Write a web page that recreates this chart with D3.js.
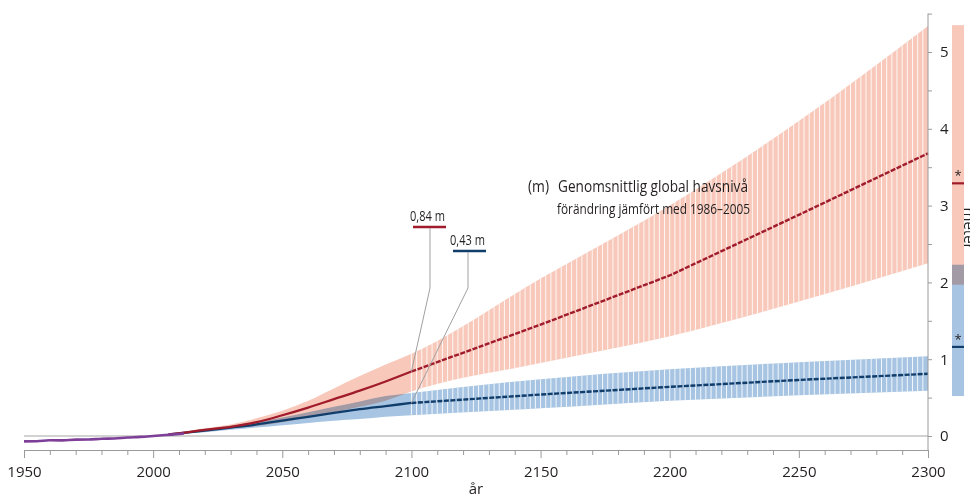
<!DOCTYPE html>
<html>
<head>
<meta charset="utf-8">
<script src="https://cdn.jsdelivr.net/npm/d3@7"></script>
<style>
  body { margin: 0; background: #fff; }
  text { font-family: "Open Sans", sans-serif; fill: #231f20; }
  .axis path, .axis line { stroke: #9a9a9a; }
</style>
</head>
<body>
<div id="chart"></div>
<script>

// historical observations
var histYears = [1950, 1955, 1960, 1965, 1970, 1975, 1980, 1985, 1990, 1995, 2000, 2005, 2010, 2012];
var histLevel = [-0.07, -0.068, -0.056, -0.057, -0.047, -0.046, -0.036, -0.032, -0.02, -0.012, 0.0, 0.013, 0.026, 0.032];

// projections
var projYears = [2006, 2010, 2020, 2030, 2040, 2050, 2060, 2070, 2080, 2090, 2100, 2150, 2200, 2250, 2300];
var highMid  = [0.02, 0.035, 0.08, 0.12, 0.18, 0.27, 0.37, 0.48, 0.59, 0.71, 0.84, 1.45, 2.09, 2.88, 3.68];
var highUp   = [0.02, 0.045, 0.10, 0.15, 0.23, 0.33, 0.46, 0.62, 0.78, 0.93, 1.07, 2.05, 3.00, 4.10, 5.34];
var highLow  = [0.02, 0.030, 0.07, 0.10, 0.13, 0.18, 0.24, 0.31, 0.38, 0.46, 0.58, 0.95, 1.30, 1.75, 2.25];
var lowMid   = [0.02, 0.035, 0.07, 0.11, 0.15, 0.20, 0.25, 0.30, 0.35, 0.39, 0.43, 0.54, 0.64, 0.73, 0.81];
var lowUp    = [0.02, 0.045, 0.09, 0.13, 0.18, 0.24, 0.31, 0.38, 0.45, 0.52, 0.56, 0.74, 0.87, 0.96, 1.04];
var lowLow   = [0.02, 0.030, 0.05, 0.08, 0.11, 0.14, 0.17, 0.20, 0.22, 0.25, 0.27, 0.36, 0.46, 0.53, 0.59];

// 2300 ranges shown at right side
var barHigh = {lo: 1.97, hi: 5.35, mid: 3.29};
var barLow  = {lo: 0.52, hi: 2.23, mid: 1.16};

var yearTicks = [1950, 2000, 2050, 2100, 2150, 2200, 2250, 2300];
var levelTicks = [0, 1, 2, 3, 4, 5];

var pink = "#f8c9bb", blue = "#a7c5e3", darkRed = "#a01b2b", darkBlue = "#113d6b", purple = "#7e3f98";

var width = 970, height = 500, axisY = 450;

var x = d3.scaleLinear().domain([1950, 2300]).range([24, 928]);
var y = d3.scaleLinear().domain([0, 5]).range([436, 52]);

var svg = d3.select("#chart")
    .append("svg")
    .attr("width", width)
    .attr("height", height);

var proj = projYears.map(function(d, i) {
  return {year: d, hMid: highMid[i], hUp: highUp[i], hLow: highLow[i],
          lMid: lowMid[i], lUp: lowUp[i], lLow: lowLow[i]};
});
var hist = histYears.map(function(d, i) { return {year: d, v: histLevel[i]}; });

var areaHigh = d3.area().curve(d3.curveMonotoneX)
    .x(function(d) { return x(d.year); })
    .y0(function(d) { return y(d.hLow); })
    .y1(function(d) { return y(d.hUp); });
var areaLow = d3.area().curve(d3.curveMonotoneX)
    .x(function(d) { return x(d.year); })
    .y0(function(d) { return y(d.lLow); })
    .y1(function(d) { return y(d.lUp); });

// zero line
svg.append("line")
    .attr("x1", x(1950)).attr("x2", x(2300))
    .attr("y1", y(0)).attr("y2", y(0))
    .attr("stroke", "#a5a5a5").attr("stroke-width", 1.2);

// clip for the striped part
var defs = svg.append("defs");
var clip = defs.append("clipPath").attr("id", "bands");
clip.append("path").datum(proj).attr("d", areaHigh);
clip.append("path").datum(proj).attr("d", areaLow);

svg.append("path").datum(proj)
    .attr("fill", pink)
    .style("mix-blend-mode", "multiply")
    .attr("d", areaHigh);
svg.append("path").datum(proj)
    .attr("fill", blue)
    .style("mix-blend-mode", "multiply")
    .attr("d", areaLow);

// white gaps after 2100
svg.append("g")
    .attr("clip-path", "url(#bands)")
    .selectAll("line")
    .data(d3.range(2100, 2300, 2))
    .enter()
    .append("line")
    .attr("x1", function(d) { return x(d); })
    .attr("x2", function(d) { return x(d); })
    .attr("y1", y(5.5))
    .attr("y2", y(0))
    .attr("stroke", "#fff")
    .attr("stroke-opacity", 0.85)
    .attr("stroke-width", 1);

// medians
function medLine(key) {
  return d3.line().curve(d3.curveMonotoneX)
    .x(function(d) { return x(d.year); })
    .y(function(d) { return y(d[key]); });
}
var before = proj.filter(function(d) { return d.year <= 2100; });
var after = proj.filter(function(d) { return d.year >= 2100; });

svg.append("path").datum(before)
    .attr("fill", "none").attr("stroke", darkBlue).attr("stroke-width", 2.3)
    .attr("d", medLine("lMid"));
svg.append("path").datum(after)
    .attr("fill", "none").attr("stroke", darkBlue).attr("stroke-width", 2.4)
    .attr("stroke-dasharray", "5,1.5")
    .attr("d", medLine("lMid").curve(d3.curveLinear));
svg.append("path").datum(before)
    .attr("fill", "none").attr("stroke", darkRed).attr("stroke-width", 2.3)
    .attr("d", medLine("hMid"));
svg.append("path").datum(after)
    .attr("fill", "none").attr("stroke", darkRed).attr("stroke-width", 2.4)
    .attr("stroke-dasharray", "5,1.5")
    .attr("d", medLine("hMid").curve(d3.curveLinear));

// observed
svg.append("path").datum(hist)
    .attr("fill", "none").attr("stroke", purple).attr("stroke-width", 2.6)
    .attr("d", d3.line().curve(d3.curveMonotoneX)
      .x(function(d) { return x(d.year); })
      .y(function(d) { return y(d.v); }));

// x axis
var xAxis = svg.append("g")
    .attr("class", "axis")
    .attr("transform", "translate(0," + axisY + ")")
    .call(d3.axisBottom(x)
      .tickValues(d3.range(1950, 2301, 10))
      .tickSize(5)
      .tickSizeOuter(0)
      .tickPadding(11)
      .tickFormat(function(d) { return yearTicks.indexOf(d) >= 0 ? d : ""; }));
xAxis.selectAll(".tick line")
    .attr("y2", function(d) { return yearTicks.indexOf(d) >= 0 ? 8 : 5; });
xAxis.selectAll("text").style("font-size", "15px").attr("fill", "#231f20");

// y axis on the right
var yAxis = svg.append("g")
    .attr("class", "axis")
    .attr("transform", "translate(" + x(2300) + ",0)")
    .call(d3.axisRight(y)
      .tickValues(d3.range(0, 5.51, 0.5))
      .tickSize(4)
      .tickPadding(8)
      .tickFormat(function(d) { return levelTicks.indexOf(d) >= 0 ? d : ""; }));
yAxis.select(".domain").remove();
yAxis.append("line")
    .attr("y1", y(5.5)).attr("y2", axisY)
    .attr("stroke", "#9a9a9a");
yAxis.selectAll("text").style("font-size", "15px").attr("fill", "#231f20");

svg.append("text")
    .attr("x", 476).attr("y", 494)
    .attr("text-anchor", "middle")
    .style("font-size", "15px")
    .text("år");

svg.append("text")
    .attr("transform", "translate(964," + y(2.7) + ") rotate(90)")
    .attr("text-anchor", "middle")
    .style("font-size", "15px")
    .text("meter");

// bars at the right
var bx = x(2300) + 24, bw = 12;
svg.append("rect")
    .attr("x", bx).attr("width", bw)
    .attr("y", y(barHigh.hi)).attr("height", y(barHigh.lo) - y(barHigh.hi))
    .attr("fill", pink).style("mix-blend-mode", "multiply");
svg.append("rect")
    .attr("x", bx).attr("width", bw)
    .attr("y", y(barLow.hi)).attr("height", y(barLow.lo) - y(barLow.hi))
    .attr("fill", blue).style("mix-blend-mode", "multiply");
[[barHigh, darkRed], [barLow, darkBlue]].forEach(function(b) {
  svg.append("line")
      .attr("x1", bx).attr("x2", bx + bw)
      .attr("y1", y(b[0].mid)).attr("y2", y(b[0].mid))
      .attr("stroke", b[1]).attr("stroke-width", 2.2);
  svg.append("text")
      .attr("x", bx + bw / 2).attr("y", y(b[0].mid) - 3)
      .attr("text-anchor", "middle")
      .style("font-size", "13px")
      .attr("fill", "#444")
      .text("*");
});

// 2100 labels with leaders
var p2100 = proj.filter(function(d) { return d.year === 2100; })[0];
var labels = [
  {txt: "0,84 m", v: p2100.hMid, col: darkRed, lx: 410, ly: 221, kx: 430},
  {txt: "0,43 m", v: p2100.lMid, col: darkBlue, lx: 450, ly: 245, kx: 468}
];
labels.forEach(function(l) {
  svg.append("text")
      .attr("x", l.lx).attr("y", l.ly)
      .attr("textLength", 35)
      .attr("lengthAdjust", "spacingAndGlyphs")
      .style("font-size", "15px")
      .text(l.txt);
  svg.append("line")
      .attr("x1", l.lx + 3).attr("x2", l.lx + 36)
      .attr("y1", l.ly + 6).attr("y2", l.ly + 6)
      .attr("stroke", l.col).attr("stroke-width", 2.5);
  svg.append("polyline")
      .attr("points", [[l.kx, l.ly + 7], [l.kx, 288], [x(2100), y(l.v)]].join(" "))
      .attr("fill", "none")
      .attr("stroke", "#a0a0a0")
      .attr("stroke-width", 1);
});

svg.append("text")
    .attr("x", 528).attr("y", 192)
    .attr("textLength", 21)
    .attr("lengthAdjust", "spacingAndGlyphs")
    .style("font-size", "17px")
    .text("(m)");
svg.append("text")
    .attr("x", 558).attr("y", 192)
    .attr("textLength", 190)
    .attr("lengthAdjust", "spacingAndGlyphs")
    .style("font-size", "17px")
    .text("Genomsnittlig global havsnivå");
svg.append("text")
    .attr("x", 557).attr("y", 214)
    .attr("textLength", 193)
    .attr("lengthAdjust", "spacingAndGlyphs")
    .style("font-size", "15px")
    .text("förändring jämfört med 1986–2005");

</script>
</body>
</html>
